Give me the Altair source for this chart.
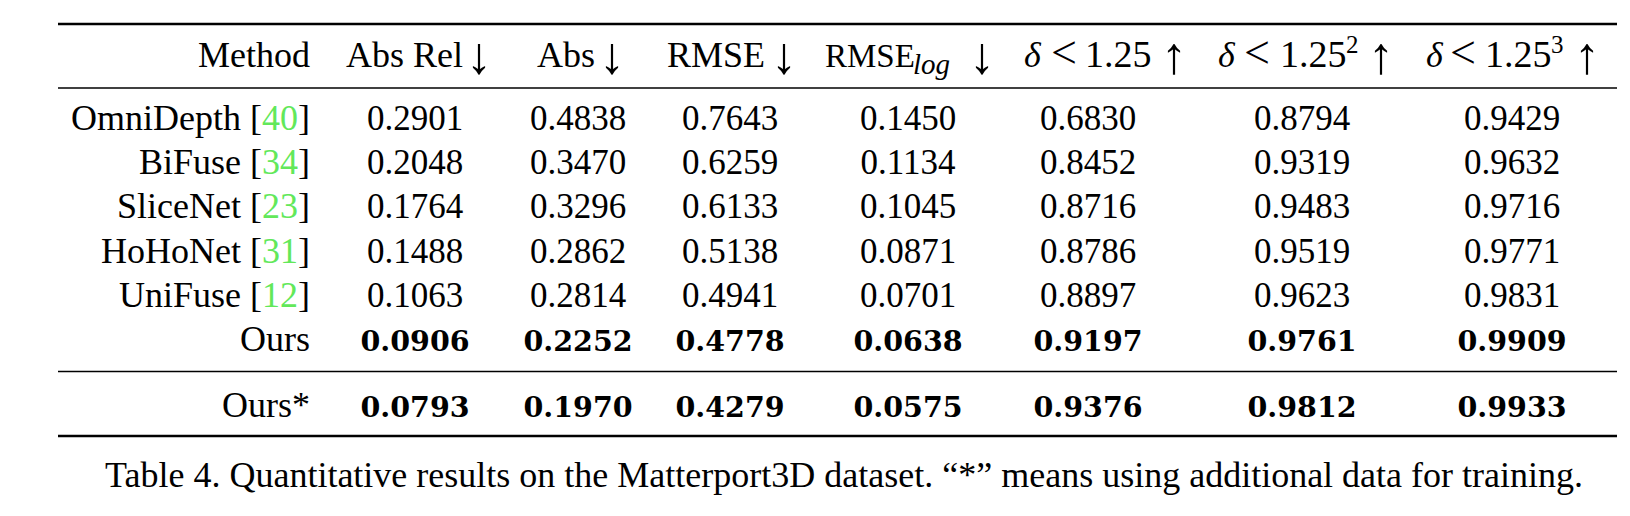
import altair as alt
import pandas as pd

# ---------------- data ----------------
methods = ["OmniDepth", "BiFuse", "SliceNet", "HoHoNet", "UniFuse", "Ours", "Ours*"]
refs = ["40", "34", "23", "31", "12", "", ""]
abs_rel = [0.2901, 0.2048, 0.1764, 0.1488, 0.1063, 0.0906, 0.0793]
abs_err = [0.4838, 0.3470, 0.3296, 0.2862, 0.2814, 0.2252, 0.1970]
rmse = [0.7643, 0.6259, 0.6133, 0.5138, 0.4941, 0.4778, 0.4279]
rmse_log = [0.1450, 0.1134, 0.1045, 0.0871, 0.0701, 0.0638, 0.0575]
delta1 = [0.6830, 0.8452, 0.8716, 0.8786, 0.8897, 0.9197, 0.9376]
delta2 = [0.8794, 0.9319, 0.9483, 0.9519, 0.9623, 0.9761, 0.9812]
delta3 = [0.9429, 0.9632, 0.9716, 0.9771, 0.9831, 0.9909, 0.9933]
bold_rows = ["Ours", "Ours*"]
caption = ("Table 4. Quantitative results on the Matterport3D dataset. "
           "\u201c*\u201d means using additional data for training.")

# ---------------- layout (page pixel coordinates) ----------------
W, H, OFF = 1614, 500, 8
col_x = [415, 578, 730, 908, 1088, 1302, 1512]
row_y = [130, 174.2, 218.4, 262.6, 306.8, 351, 417]
name_right = 310
header_y = 67
FONT = "Liberation Serif"
GREEN = "#62e85a"

columns = [abs_rel, abs_err, rmse, rmse_log, delta1, delta2, delta3]
cells = []
for i, m in enumerate(methods):
    for j, col in enumerate(columns):
        cells.append({"x": col_x[j], "y": row_y[i], "v": col[i], "bold": m in bold_rows})
cells = pd.DataFrame(cells)

names, cites = [], []
for i, (m, r) in enumerate(zip(methods, refs)):
    if r:
        names.append({"x": name_right - 12 - 18 * len(r), "y": row_y[i], "t": m + " ["})
        names.append({"x": name_right, "y": row_y[i], "t": "]"})
        cites.append({"x": name_right - 12, "y": row_y[i], "t": r})
    else:
        names.append({"x": name_right, "y": row_y[i], "t": m})
names, cites = pd.DataFrame(names), pd.DataFrame(cites)

# header pieces
head_right = pd.DataFrame([{"x": name_right, "y": header_y, "t": "Method"}])
head_left = pd.DataFrame([
    {"x": 346, "y": header_y, "t": "Abs Rel"},
    {"x": 537, "y": header_y, "t": "Abs"},
    {"x": 667, "y": header_y, "t": "RMSE"},
])
head_num = pd.DataFrame([
    {"x": 1085, "y": header_y, "t": "1.25"},
    {"x": 1280, "y": header_y, "t": "1.25"},
    {"x": 1485, "y": header_y, "t": "1.25"},
])
head_rmse = pd.DataFrame([{"x": 825, "y": header_y, "t": "RMSE"}])
head_lt = pd.DataFrame([
    {"x": 1064, "y": header_y + 1, "t": "<"},
    {"x": 1257, "y": header_y + 1, "t": "<"},
    {"x": 1463, "y": header_y + 1, "t": "<"},
])
head_italic = pd.DataFrame([
    {"x": 1024, "y": header_y, "t": "\u03b4"},
    {"x": 1218, "y": header_y, "t": "\u03b4"},
    {"x": 1426, "y": header_y, "t": "\u03b4"},
])
head_sub = pd.DataFrame([{"x": 913, "y": header_y + 7, "t": "log"}])
head_sup = pd.DataFrame([
    {"x": 1346, "y": header_y - 14, "t": "2"},
    {"x": 1551, "y": header_y - 14, "t": "3"},
])
arrows = pd.DataFrame([
    {"x": 479, "y": header_y + 6, "t": "\u2193"},
    {"x": 612, "y": header_y + 6, "t": "\u2193"},
    {"x": 784, "y": header_y + 6, "t": "\u2193"},
    {"x": 982, "y": header_y + 6, "t": "\u2193"},
    {"x": 1174, "y": header_y + 6, "t": "\u2191"},
    {"x": 1381, "y": header_y + 6, "t": "\u2191"},
    {"x": 1587, "y": header_y + 6, "t": "\u2191"},
])
cap_df = pd.DataFrame([{"x": 844, "y": 487, "t": caption}])

rules = pd.DataFrame([
    {"x": 58, "x2": 1617, "y": 24, "w": 2.6},
    {"x": 58, "x2": 1617, "y": 88, "w": 1.6},
    {"x": 58, "x2": 1617, "y": 371.5, "w": 1.6},
    {"x": 58, "x2": 1617, "y": 436, "w": 2.6},
])

xs = alt.Scale(domain=[OFF, OFF + W], nice=False, zero=False)
ys = alt.Scale(domain=[OFF, OFF + H], nice=False, zero=False, reverse=True)
X = alt.X("x:Q", scale=xs, axis=None)
Y = alt.Y("y:Q", scale=ys, axis=None)


def txt(df, **kw):
    base = dict(font=FONT, fontSize=36, color="black", baseline="alphabetic", align="left")
    base.update(kw)
    return alt.Chart(df).mark_text(**base).encode(x=X, y=Y, text="t:N")


rule_layer = alt.Chart(rules).mark_rule(color="black").encode(
    x=X, x2="x2:Q", y=Y, strokeWidth=alt.StrokeWidth("w:Q", scale=None))

reg_vals = alt.Chart(cells).transform_filter("!datum.bold").mark_text(
    font=FONT, fontSize=35, color="black", baseline="alphabetic", align="center"
).encode(x=X, y=Y, text=alt.Text("v:Q", format=".4f"))

bold_vals = alt.Chart(cells).transform_filter("datum.bold").mark_text(
    font="DejaVu Serif", fontWeight="bold", fontSize=28.5, color="black",
    baseline="alphabetic", align="center"
).encode(x=X, y=Y, text=alt.Text("v:Q", format=".4f"))

chart = alt.layer(
    rule_layer,
    txt(head_right, align="right"),
    txt(head_left),
    txt(head_num, fontSize=38),
    txt(head_rmse, fontSize=33),
    txt(head_lt, fontSize=46, align="center"),
    txt(head_italic, fontStyle="italic"),
    txt(head_sub, fontSize=29, fontStyle="italic"),
    txt(head_sup, fontSize=25),
    txt(arrows, fontSize=52, align="center"),
    txt(names, align="right"),
    txt(cites, align="right", color=GREEN),
    reg_vals,
    bold_vals,
    txt(cap_df, align="center"),
).properties(
    width=W, height=H, padding=0, autosize="none", background="white"
).configure_view(stroke=None)

chart.save("out.html", embed_options={"renderer": "svg", "actions": False})
